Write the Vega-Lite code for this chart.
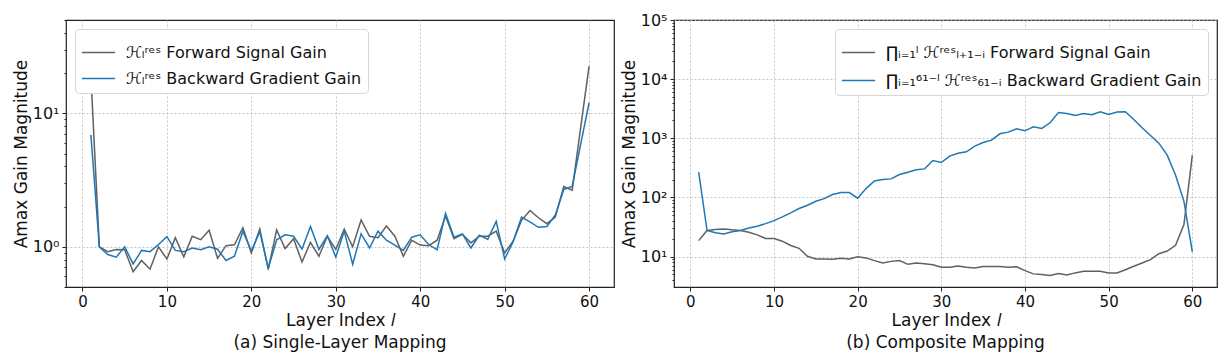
{
"$schema": "https://vega.github.io/schema/vega-lite/v6.json",
"background": "white",
"padding": {"left": 11, "top": 11, "right": 9, "bottom": 5},
"spacing": 4,
"config": {
  "font": "DejaVu Sans",
  "view": {"stroke": "#222222", "strokeWidth": 1.2},
  "axis": {"domain": false, "tickColor": "#222222", "tickSize": 4, "labelFontSize": 15, "labelColor": "#111111", "labelPadding": 3, "titleFontSize": 17, "titleFontWeight": "normal", "titleColor": "#111111", "gridColor": "#b8b8b8", "gridDash": [2, 2], "gridWidth": 0.8, "labelOverlap": false},
  "legend": {"labelFontSize": 16, "labelColor": "#111111"},
  "title": {"fontSize": 17, "fontWeight": "normal", "color": "#111111"}
},
"resolve": {"scale": {"color": "independent"}, "legend": {"color": "independent"}},
"datasets": {
"single": [
{"l":1,"s":"f","g":19},{"l":2,"s":"f","g":1.0},{"l":3,"s":"f","g":0.92},{"l":4,"s":"f","g":0.955},{"l":5,"s":"f","g":0.95},{"l":6,"s":"f","g":0.65},{"l":7,"s":"f","g":0.79},{"l":8,"s":"f","g":0.68},{"l":9,"s":"f","g":1.0},{"l":10,"s":"f","g":0.81},
{"l":11,"s":"f","g":1.17},{"l":12,"s":"f","g":0.84},{"l":13,"s":"f","g":1.2},{"l":14,"s":"f","g":1.13},{"l":15,"s":"f","g":1.33},{"l":16,"s":"f","g":0.82},{"l":17,"s":"f","g":1.02},{"l":18,"s":"f","g":1.035},{"l":19,"s":"f","g":1.39},{"l":20,"s":"f","g":0.9},
{"l":21,"s":"f","g":1.36},{"l":22,"s":"f","g":0.68},{"l":23,"s":"f","g":1.34},{"l":24,"s":"f","g":0.97},{"l":25,"s":"f","g":1.15},{"l":26,"s":"f","g":0.77},{"l":27,"s":"f","g":1.08},{"l":28,"s":"f","g":0.85},{"l":29,"s":"f","g":1.2},{"l":30,"s":"f","g":0.955},
{"l":31,"s":"f","g":1.36},{"l":32,"s":"f","g":1.0},{"l":33,"s":"f","g":1.59},{"l":34,"s":"f","g":1.2},{"l":35,"s":"f","g":1.17},{"l":36,"s":"f","g":1.43},{"l":37,"s":"f","g":1.2},{"l":38,"s":"f","g":0.85},{"l":39,"s":"f","g":1.12},{"l":40,"s":"f","g":1.03},
{"l":41,"s":"f","g":1.02},{"l":42,"s":"f","g":1.12},{"l":43,"s":"f","g":1.7},{"l":44,"s":"f","g":1.15},{"l":45,"s":"f","g":1.24},{"l":46,"s":"f","g":1.07},{"l":47,"s":"f","g":1.2},{"l":48,"s":"f","g":1.2},{"l":49,"s":"f","g":1.31},{"l":50,"s":"f","g":0.9},
{"l":51,"s":"f","g":1.1},{"l":52,"s":"f","g":1.58},{"l":53,"s":"f","g":1.87},{"l":54,"s":"f","g":1.65},{"l":55,"s":"f","g":1.49},{"l":56,"s":"f","g":1.67},{"l":57,"s":"f","g":2.83},{"l":58,"s":"f","g":2.66},{"l":59,"s":"f","g":7.8},{"l":60,"s":"f","g":22.6},
{"l":1,"s":"b","g":6.9},{"l":2,"s":"b","g":1.0},{"l":3,"s":"b","g":0.876},{"l":4,"s":"b","g":0.837},{"l":5,"s":"b","g":1.0},{"l":6,"s":"b","g":0.745},{"l":7,"s":"b","g":0.94},{"l":8,"s":"b","g":0.92},{"l":9,"s":"b","g":1.04},{"l":10,"s":"b","g":1.19},
{"l":11,"s":"b","g":0.94},{"l":12,"s":"b","g":0.92},{"l":13,"s":"b","g":0.98},{"l":14,"s":"b","g":0.95},{"l":15,"s":"b","g":1.0},{"l":16,"s":"b","g":0.96},{"l":17,"s":"b","g":0.79},{"l":18,"s":"b","g":0.85},{"l":19,"s":"b","g":1.31},{"l":20,"s":"b","g":0.93},
{"l":21,"s":"b","g":1.3},{"l":22,"s":"b","g":0.69},{"l":23,"s":"b","g":1.13},{"l":24,"s":"b","g":1.23},{"l":25,"s":"b","g":1.2},{"l":26,"s":"b","g":0.96},{"l":27,"s":"b","g":1.42},{"l":28,"s":"b","g":0.955},{"l":29,"s":"b","g":1.21},{"l":30,"s":"b","g":0.837},
{"l":31,"s":"b","g":1.31},{"l":32,"s":"b","g":0.74},{"l":33,"s":"b","g":1.25},{"l":34,"s":"b","g":0.98},{"l":35,"s":"b","g":1.31},{"l":36,"s":"b","g":1.12},{"l":37,"s":"b","g":1.03},{"l":38,"s":"b","g":0.94},{"l":39,"s":"b","g":1.18},{"l":40,"s":"b","g":1.23},
{"l":41,"s":"b","g":1.04},{"l":42,"s":"b","g":0.95},{"l":43,"s":"b","g":1.78},{"l":44,"s":"b","g":1.18},{"l":45,"s":"b","g":1.25},{"l":46,"s":"b","g":0.98},{"l":47,"s":"b","g":1.22},{"l":48,"s":"b","g":1.14},{"l":49,"s":"b","g":1.55},{"l":50,"s":"b","g":0.81},
{"l":51,"s":"b","g":1.09},{"l":52,"s":"b","g":1.67},{"l":53,"s":"b","g":1.54},{"l":54,"s":"b","g":1.4},{"l":55,"s":"b","g":1.42},{"l":56,"s":"b","g":1.73},{"l":57,"s":"b","g":2.69},{"l":58,"s":"b","g":2.83},{"l":59,"s":"b","g":5.85},{"l":60,"s":"b","g":12.0}
],
"composite": [
{"l":1,"s":"f","g":18.6},{"l":2,"s":"f","g":27.6},{"l":3,"s":"f","g":28.6},{"l":4,"s":"f","g":29.4},{"l":5,"s":"f","g":28.3},{"l":6,"s":"f","g":27.6},{"l":7,"s":"f","g":25.8},{"l":8,"s":"f","g":23.3},{"l":9,"s":"f","g":20.2},{"l":10,"s":"f","g":20.2},
{"l":11,"s":"f","g":18.2},{"l":12,"s":"f","g":15.4},{"l":13,"s":"f","g":13.8},{"l":14,"s":"f","g":10.1},{"l":15,"s":"f","g":9.1},{"l":16,"s":"f","g":9.1},{"l":17,"s":"f","g":9.0},{"l":18,"s":"f","g":9.4},{"l":19,"s":"f","g":9.1},{"l":20,"s":"f","g":9.9},
{"l":21,"s":"f","g":9.5},{"l":22,"s":"f","g":8.55},{"l":23,"s":"f","g":7.8},{"l":24,"s":"f","g":8.3},{"l":25,"s":"f","g":8.55},{"l":26,"s":"f","g":7.4},{"l":27,"s":"f","g":7.8},{"l":28,"s":"f","g":7.6},{"l":29,"s":"f","g":7.3},{"l":30,"s":"f","g":6.6},
{"l":31,"s":"f","g":6.6},{"l":32,"s":"f","g":6.95},{"l":33,"s":"f","g":6.6},{"l":34,"s":"f","g":6.4},{"l":35,"s":"f","g":6.8},{"l":36,"s":"f","g":6.8},{"l":37,"s":"f","g":6.8},{"l":38,"s":"f","g":6.6},{"l":39,"s":"f","g":6.7},{"l":40,"s":"f","g":5.8},
{"l":41,"s":"f","g":5.1},{"l":42,"s":"f","g":5.0},{"l":43,"s":"f","g":4.8},{"l":44,"s":"f","g":5.15},{"l":45,"s":"f","g":4.9},{"l":46,"s":"f","g":5.3},{"l":47,"s":"f","g":5.65},{"l":48,"s":"f","g":5.65},{"l":49,"s":"f","g":5.65},{"l":50,"s":"f","g":5.3},
{"l":51,"s":"f","g":5.3},{"l":52,"s":"f","g":6.0},{"l":53,"s":"f","g":6.86},{"l":54,"s":"f","g":7.8},{"l":55,"s":"f","g":8.9},{"l":56,"s":"f","g":11.2},{"l":57,"s":"f","g":12.4},{"l":58,"s":"f","g":15.5},{"l":59,"s":"f","g":34.8},{"l":60,"s":"f","g":519},
{"l":1,"s":"b","g":267},{"l":2,"s":"b","g":27.6},{"l":3,"s":"b","g":25.2},{"l":4,"s":"b","g":24.2},{"l":5,"s":"b","g":26.2},{"l":6,"s":"b","g":27.6},{"l":7,"s":"b","g":30.5},{"l":8,"s":"b","g":32.6},{"l":9,"s":"b","g":36.1},{"l":10,"s":"b","g":40.6},
{"l":11,"s":"b","g":46.9},{"l":12,"s":"b","g":54.8},{"l":13,"s":"b","g":64.9},{"l":14,"s":"b","g":73.9},{"l":15,"s":"b","g":86.3},{"l":16,"s":"b","g":95.6},{"l":17,"s":"b","g":112},{"l":18,"s":"b","g":121},{"l":19,"s":"b","g":121},{"l":20,"s":"b","g":97},
{"l":21,"s":"b","g":141},{"l":22,"s":"b","g":190},{"l":23,"s":"b","g":201},{"l":24,"s":"b","g":206},{"l":25,"s":"b","g":244},{"l":26,"s":"b","g":267},{"l":27,"s":"b","g":293},{"l":28,"s":"b","g":304},{"l":29,"s":"b","g":421},{"l":30,"s":"b","g":389},
{"l":31,"s":"b","g":499},{"l":32,"s":"b","g":560},{"l":33,"s":"b","g":590},{"l":34,"s":"b","g":736},{"l":35,"s":"b","g":849},{"l":36,"s":"b","g":929},{"l":37,"s":"b","g":1190},{"l":38,"s":"b","g":1270},{"l":39,"s":"b","g":1446},{"l":40,"s":"b","g":1337},
{"l":41,"s":"b","g":1563},{"l":42,"s":"b","g":1466},{"l":43,"s":"b","g":1828},{"l":44,"s":"b","g":2735},{"l":45,"s":"b","g":2630},{"l":46,"s":"b","g":2432},{"l":47,"s":"b","g":2630},{"l":48,"s":"b","g":2495},{"l":49,"s":"b","g":2805},{"l":50,"s":"b","g":2530},
{"l":51,"s":"b","g":2770},{"l":52,"s":"b","g":2805},{"l":53,"s":"b","g":2080},{"l":54,"s":"b","g":1503},{"l":55,"s":"b","g":1114},{"l":56,"s":"b","g":828},{"l":57,"s":"b","g":519},{"l":58,"s":"b","g":238},{"l":59,"s":"b","g":86},{"l":60,"s":"b","g":12.0}
]
},
"hconcat": [
{
  "width": 548, "height": 267,
  "data": {"name": "single"},
  "title": {"text": "(a) Single-Layer Mapping", "orient": "bottom", "offset": 7},
  "mark": {"type": "line", "strokeWidth": 1.5},
  "encoding": {
    "x": {"field": "l", "type": "quantitative", "scale": {"domain": [-1.95, 62.95], "nice": false, "zero": false},
      "axis": {"values": [0,10,20,30,40,50,60], "title": "Layer Index 𝑙", "titlePadding": 3}},
    "y": {"field": "g", "type": "quantitative", "scale": {"type": "log", "domain": [0.5, 50], "nice": false},
      "axis": {"title": "Amax Gain Magnitude", "titlePadding": 2, "labelFontSize": 16,
        "values": [0.5,0.6,0.7,0.8,0.9,1,2,3,4,5,6,7,8,9,10,20,30,40,50],
        "labelExpr": "abs(log(datum.value)/LN10 - round(log(datum.value)/LN10)) < 0.001 ? '10' + ['⁰','¹','²','³','⁴','⁵'][round(log(datum.value)/LN10)] : ''",
        "tickSize": {"condition": {"test": "abs(log(datum.value)/LN10 - round(log(datum.value)/LN10)) < 0.001", "value": 4}, "value": 2},
        "gridOpacity": {"condition": {"test": "abs(log(datum.value)/LN10 - round(log(datum.value)/LN10)) < 0.001", "value": 1}, "value": 0}}},
    "color": {"field": "s", "type": "nominal", "scale": {"domain": ["f","b"], "range": ["#606060","#1f77b4"]},
      "legend": {"orient": "top-left", "title": null, "offset": 9, "padding": 6, "fillColor": "white", "strokeColor": "#d5d5d5", "cornerRadius": 4,
        "symbolType": "stroke", "symbolSize": 1100, "symbolStrokeWidth": 1.5, "labelFontSize": 16, "labelColor": "#111111", "rowPadding": 0, "labelLimit": 600, "labelOffset": 10,
        "labelExpr": "datum.value == 'f' ? 'ℋₗʳᵉˢ Forward Signal Gain' : 'ℋₗʳᵉˢ Backward Gradient Gain'"}}
  }
},
{
  "width": 543, "height": 267,
  "data": {"name": "composite"},
  "title": {"text": "(b) Composite Mapping", "orient": "bottom", "offset": 7},
  "mark": {"type": "line", "strokeWidth": 1.5},
  "encoding": {
    "x": {"field": "l", "type": "quantitative", "scale": {"domain": [-1.95, 62.95], "nice": false, "zero": false},
      "axis": {"values": [0,10,20,30,40,50,60], "title": "Layer Index 𝑙", "titlePadding": 3}},
    "y": {"field": "g", "type": "quantitative", "scale": {"type": "log", "domain": [3.06, 100000], "nice": false},
      "axis": {"title": "Amax Gain Magnitude", "titlePadding": 2, "labelFontSize": 16,
        "values": [4,5,6,7,8,9,10,20,30,40,50,60,70,80,90,100,200,300,400,500,600,700,800,900,1000,2000,3000,4000,5000,6000,7000,8000,9000,10000,20000,30000,40000,50000,60000,70000,80000,90000,100000],
        "labelExpr": "abs(log(datum.value)/LN10 - round(log(datum.value)/LN10)) < 0.001 ? '10' + ['⁰','¹','²','³','⁴','⁵'][round(log(datum.value)/LN10)] : ''",
        "tickSize": {"condition": {"test": "abs(log(datum.value)/LN10 - round(log(datum.value)/LN10)) < 0.001", "value": 4}, "value": 2},
        "gridOpacity": {"condition": {"test": "abs(log(datum.value)/LN10 - round(log(datum.value)/LN10)) < 0.001", "value": 1}, "value": 0}}},
    "color": {"field": "s", "type": "nominal", "scale": {"domain": ["f","b"], "range": ["#606060","#1f77b4"]},
      "legend": {"orient": "top-right", "title": null, "offset": 9, "padding": 6, "fillColor": "white", "strokeColor": "#d5d5d5", "cornerRadius": 4,
        "symbolType": "stroke", "symbolSize": 1100, "symbolStrokeWidth": 1.5, "labelFontSize": 16, "labelColor": "#111111", "rowPadding": 2, "labelLimit": 600, "labelOffset": 10,
        "labelExpr": "datum.value == 'f' ? '∏ᵢ₌₁ˡ ℋʳᵉˢₗ₊₁₋ᵢ Forward Signal Gain' : '∏ᵢ₌₁⁶¹⁻ˡ ℋʳᵉˢ₆₁₋ᵢ Backward Gradient Gain'"}}
  }
}
]
}
